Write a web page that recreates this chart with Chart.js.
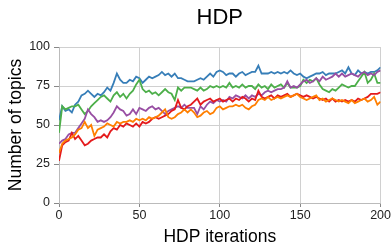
<!DOCTYPE html>
<html>
<head>
<meta charset="utf-8">
<script src="https://cdn.jsdelivr.net/npm/chart.js@4/dist/chart.umd.min.js"></script>
<style>
html,body{margin:0;padding:0;background:#fff;}
#wrap{width:392px;height:245px;}
</style>
</head>
<body>
<div id="wrap"><canvas id="c" width="392" height="245"></canvas></div>
<script>
const titleText = 'HDP';
const xTitle = 'HDP iterations';
const yTitle = 'Number of topics';
const xTicks = [0, 50, 100, 150, 200];
const yTicks = [0, 25, 50, 75, 100];
const iterations = [0,2,4,6,8,10,12,14,16,18,20,22,24,26,28,30,32,34,36,38,40,42,44,46,48,50,52,54,56,58,60,62,64,66,68,70,72,74,76,78,80,82,84,86,88,90,92,94,96,98,100,102,104,106,108,110,112,114,116,118,120,122,124,126,128,130,132,134,136,138,140,142,144,146,148,150,152,154,156,158,160,162,164,166,168,170,172,174,176,178,180,182,184,186,188,190,192,194,196,198,200];

const blue = [53,62,59,60,58,63,65,69,70,72,
70,68,70,69,71,74,72,77,83,79,
77,77,79,78,81,80,77,79,81,80,
81,82,84,82,83,81,83,80,80,79,
78,78,78,79,80,79,81,83,81,84,
85,84,82,83,83,81,83,84,82,83,
84,84,88,83,83,83,84,83,84,83,
84,83,85,83,82,83,81,80,81,82,
83,83,84,82,83,83,83,84,85,83,
87,83,82,85,83,84,83,84,84,85,
87];
const green = [45,62,60,61,62,62,63,60,57,59,
62,64,66,68,69,67,65,69,71,68,
70,67,70,72,76,79,73,71,72,70,
71,69,71,73,71,70,66,74,72,74,
74,74,73,72,74,72,73,75,74,75,
74,75,74,77,74,75,74,76,74,75,
75,73,76,74,75,73,76,74,75,76,
74,77,74,74,74,75,79,77,79,78,
80,76,73,72,71,73,72,74,76,75,
74,75,75,78,81,84,77,79,83,77,
77];
const purple = [38,40,41,44,45,45,48,51,54,60,
57,55,52,53,52,53,55,58,62,60,
59,56,57,60,57,61,60,59,61,62,
60,61,59,57,59,60,61,62,61,63,
61,61,61,57,62,60,63,65,64,66,
65,66,65,68,67,69,68,67,69,67,
69,68,70,69,71,72,71,72,73,73,
74,78,74,75,74,76,78,79,77,78,
80,78,81,79,80,81,83,81,83,81,
82,83,82,81,83,84,82,83,82,84,
85];
const red = [27,37,39,40,45,41,43,40,37,38,
40,41,42,42,44,42,46,48,47,50,
49,51,50,49,51,49,52,51,52,54,
55,54,55,56,57,59,60,66,61,60,
62,63,65,67,63,65,66,67,65,66,
67,65,66,67,65,67,66,68,67,65,
67,66,72,68,67,68,69,67,69,68,
69,70,68,69,70,69,68,69,68,67,
68,67,66,67,65,67,65,66,65,66,
65,66,65,67,66,67,68,70,70,70,
71];
const orange = [32,38,40,41,42,44,47,48,52,48,
50,43,47,48,49,51,50,49,52,51,
52,52,53,52,54,53,54,53,55,54,
55,56,58,60,55,54,55,57,58,60,
58,60,58,55,56,58,59,57,58,61,
62,60,61,62,62,63,62,63,61,60,
62,63,66,67,66,68,66,67,68,67,
68,69,68,69,70,68,67,66,67,68,
69,66,67,65,66,67,66,65,66,65,
64,66,64,65,66,67,65,66,68,63,
65];

const FONT = "'Liberation Sans', Arial, Helvetica, sans-serif";
function pts(arr){ return iterations.map((x,i)=>({x:x, y:arr[i]})); }
function ds(arr, color){
  return {data: pts(arr), borderColor: color, backgroundColor: color, borderWidth: 1.8, pointRadius: 0, tension: 0, fill: false};
}

new Chart(document.getElementById('c'), {
  type: 'line',
  data: {
    datasets: [
      ds(orange, '#ff7f00'),
      ds(red, '#e41a1c'),
      ds(purple, '#984ea3'),
      ds(green, '#4daf4a'),
      ds(blue, '#377eb8')
    ]
  },
  options: {
    responsive: false,
    devicePixelRatio: 1,
    animation: false,
    layout: {padding: {left: 0, right: 2, top: 0, bottom: 0}},
    plugins: {
      legend: {display: false},
      tooltip: {enabled: false},
      title: {
        display: true, text: titleText, fullSize: false,
        font: {family: FONT, size: 22, weight: 'normal', lineHeight: 1.2},
        color: '#000',
        padding: {top: 5, bottom: 15.6}
      }
    },
    scales: {
      x: {
        type: 'linear', min: 0, max: 200,
        afterBuildTicks: s => { s.ticks = xTicks.map(v => ({value: v})); },
        afterFit: s => { s.height = 42; },
        ticks: {font: {family: FONT, size: 12.5}, color: '#222', padding: 1, maxRotation: 0},
        grid: {color: '#d0d0d0', lineWidth: 1, tickLength: 4, tickColor: '#888'},
        border: {color: '#bbb'},
        title: {display: true, text: xTitle, font: {family: FONT, size: 17.5, lineHeight: 0.9}, color: '#000', padding: {top: 0, bottom: 0}}
      },
      y: {
        type: 'linear', min: 0, max: 100,
        afterBuildTicks: s => { s.ticks = yTicks.map(v => ({value: v})); },
        afterFit: s => { s.width = 59; },
        ticks: {font: {family: FONT, size: 12.5}, color: '#222', padding: 4},
        grid: {color: '#d0d0d0', lineWidth: 1, tickLength: 5, tickColor: '#888'},
        border: {color: '#bbb'},
        title: {display: true, text: yTitle, font: {family: FONT, size: 17.5, lineHeight: 1}, color: '#000', padding: {top: 7.5, bottom: 0}}
      }
    }
  }
});
</script>
</body>
</html>
